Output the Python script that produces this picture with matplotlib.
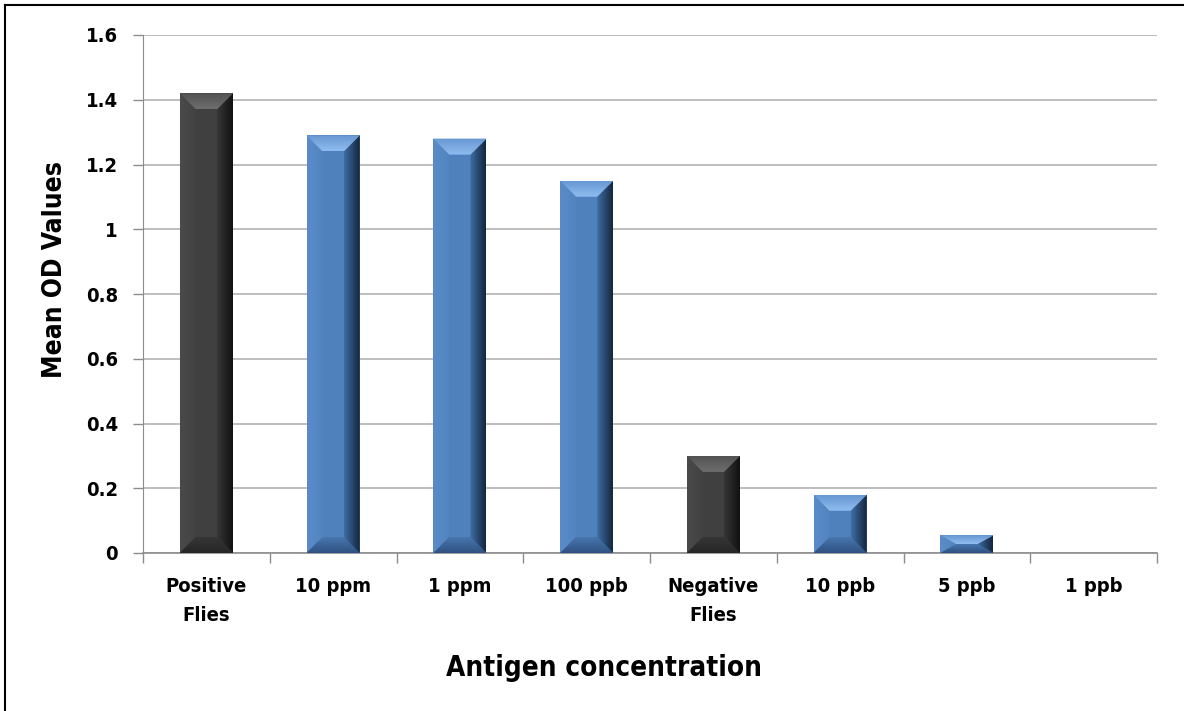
import numpy as np
import matplotlib
matplotlib.use("Agg")
import matplotlib.pyplot as plt
from matplotlib.patches import Polygon
from matplotlib.lines import Line2D
from matplotlib.colors import to_rgb

categories = ["Positive\nFlies", "10 ppm", "1 ppm", "100 ppb",
              "Negative\nFlies", "10 ppb", "5 ppb", "1 ppb"]
od_values = [1.42, 1.29, 1.28, 1.15, 0.30, 0.18, 0.055, 0.0]
is_control = [True, False, False, False, True, False, False, False]
y_ticks = [0, 0.2, 0.4, 0.6, 0.8, 1.0, 1.2, 1.4, 1.6]
y_tick_labels = ["0", "0.2", "0.4", "0.6", "0.8", "1", "1.2", "1.4", "1.6"]

# face / bevel shades (outer edge -> inner edge) for the two bar styles
STYLES = {
    "blue": dict(face="#4f81bd",
                 top=("#6797d2", "#90bdf0"),
                 right=("#14263d", "#3f6da4"),
                 bottom=("#2f5282", "#4876ad"),
                 left=("#5b8cc9", "#5184c0")),
    "dark": dict(face="#404040",
                 top=("#525252", "#6e6e6e"),
                 right=("#111111", "#363636"),
                 bottom=("#262626", "#363636"),
                 left=("#4a4a4a", "#424242")),
}
BEVEL_PX = 16

plt.rcParams["font.family"] = ["DejaVu Sans"]
plt.rcParams["font.stretch"] = "condensed"
plt.rcParams["font.weight"] = "bold"


def shade(ax, verts, c_outer, c_inner, side, zorder=4):
    verts = np.asarray(verts, dtype=float)
    poly = Polygon(verts, closed=True, facecolor="none", edgecolor="none")
    ax.add_patch(poly)
    t = np.linspace(0, 1, 64)[:, None]
    c0, c1 = np.array(to_rgb(c_outer)), np.array(to_rgb(c_inner))
    # gradient runs from c_outer at the bar edge to c_inner towards the face
    if side in ("left", "bottom"):
        grad = (1 - t) * c0 + t * c1
    else:
        grad = (1 - t) * c1 + t * c0
    img = grad[None, :, :] if side in ("left", "right") else grad[:, None, :]
    im = ax.imshow(img, extent=(verts[:, 0].min(), verts[:, 0].max(),
                                verts[:, 1].min(), verts[:, 1].max()),
                   origin="lower", aspect="auto", interpolation="bilinear",
                   zorder=zorder)
    im.set_clip_path(poly)


fig = plt.figure(figsize=(11.84, 7.11), dpi=100)
ax = fig.add_axes([143 / 1184, 1 - 553 / 711, (1157 - 143) / 1184, (553 - 35) / 711])
ax.set_xlim(-0.5, len(categories) - 0.5)
ax.set_ylim(0, 1.6)

x = np.arange(len(categories))
colors = [STYLES["dark" if c else "blue"]["face"] for c in is_control]
bars = ax.bar(x, od_values, width=0.42, color=colors, linewidth=0, zorder=3)

# bevel facets, sized in pixels and converted to data units
bbox = ax.get_window_extent()
px_x = bbox.width / (len(categories))
px_y = bbox.height / 1.6
for rect, ctrl in zip(bars, is_control):
    h = rect.get_height()
    if h <= 0:
        continue
    st = STYLES["dark" if ctrl else "blue"]
    x0, x1 = rect.get_x(), rect.get_x() + rect.get_width()
    bx = min(BEVEL_PX / px_x, rect.get_width() / 2)
    by = min(BEVEL_PX / px_y, h / 2)
    shade(ax, [(x0, 0), (x0, h), (x0 + bx, h - by), (x0 + bx, by)], *st["left"], "left")
    shade(ax, [(x0, 0), (x1, 0), (x1 - bx, by), (x0 + bx, by)], *st["bottom"], "bottom")
    shade(ax, [(x1, 0), (x1, h), (x1 - bx, h - by), (x1 - bx, by)], *st["right"], "right")
    shade(ax, [(x0, h), (x1, h), (x1 - bx, h - by), (x0 + bx, h - by)], *st["top"], "top")

ax.set_xlim(-0.5, len(categories) - 0.5)
ax.set_ylim(0, 1.6)

# tick marks sit between categories, labels under the bars
ax.set_xticks(np.arange(-0.5, len(categories), 1))
ax.set_xticklabels([])
ax.set_xticks(x, minor=True)
ax.set_xticklabels(categories, minor=True, fontsize=14.5, linespacing=1.7)
ax.tick_params(axis="x", which="major", length=7, width=1, color="#8c8c8c")
ax.tick_params(axis="x", which="minor", length=0, pad=17)

ax.set_yticks(y_ticks)
ax.set_yticklabels(y_tick_labels, fontsize=14.5)
ax.tick_params(axis="y", length=7, width=1, color="#8c8c8c", pad=11)

ax.yaxis.grid(True, color="#b3b3b3", linewidth=1.2)
ax.set_axisbelow(True)
for s in ("top", "right"):
    ax.spines[s].set_visible(False)
ax.spines["left"].set_color("#8c8c8c")
ax.spines["bottom"].set_color("#8c8c8c")
ax.spines["bottom"].set_linewidth(1.2)

fig.text(604 / 1184, 1 - 668 / 711, "Antigen concentration", fontsize=20,
         ha="center", va="center")
fig.text(55 / 1184, 1 - 269 / 711, "Mean OD Values", fontsize=19,
         rotation=90, ha="center", va="center")

# chart frame (left and top edges)
fig.add_artist(Line2D([5 / 1184, 5 / 1184], [0, 1 - 5 / 711], transform=fig.transFigure,
                      color="black", linewidth=1.5))
fig.add_artist(Line2D([5 / 1184, 1], [1 - 5 / 711, 1 - 5 / 711], transform=fig.transFigure,
                      color="black", linewidth=1.5))

fig.savefig("out.png", dpi=100)
